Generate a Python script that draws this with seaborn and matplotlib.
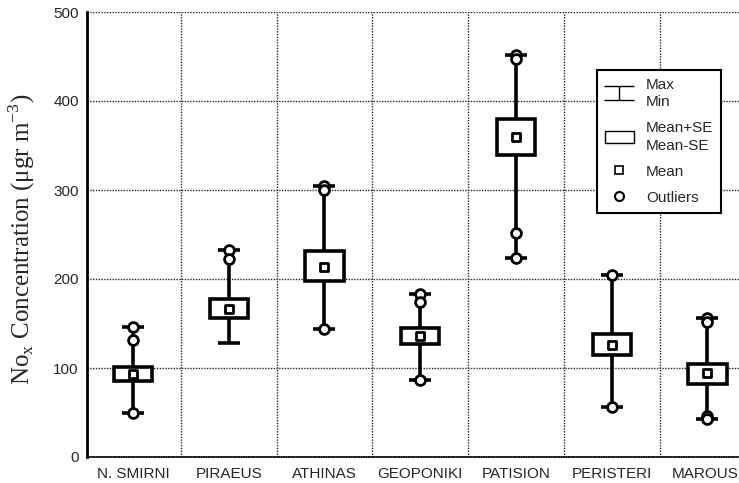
import numpy as np
import pandas as pd
import seaborn as sns
import matplotlib.pyplot as plt
from matplotlib.lines import Line2D
from matplotlib.patches import Patch
from matplotlib.path import Path

stations = ['N. SMIRNI', 'PIRAEUS', 'ATHINAS', 'GEOPONIKI', 'PATISION', 'PERISTERI', 'MAROUSI']
v_min = [50, 128, 144, 87, 224, 56, 43]
v_max = [146, 233, 305, 183, 452, 204, 156]
se_lo = [85, 156, 198, 127, 339, 115, 82]
se_hi = [101, 178, 231, 145, 380, 138, 105]
v_mean = [93, 166, 214, 136, 359, 126, 94]

# outliers (station index, value)
out_station = [0, 0, 0, 1, 1, 2, 2, 2, 3, 3, 3, 4, 4, 4, 4, 5, 5, 6, 6, 6, 6]
out_value = [146, 132, 50, 233, 222, 305, 300, 144, 183, 174, 87,
             452, 447, 252, 224, 204, 56, 156, 152, 46, 43]

df = pd.DataFrame({'station': stations, 'vmin': v_min, 'vmax': v_max,
                   'lo': se_lo, 'hi': se_hi, 'mean': v_mean})
df['x'] = np.arange(len(stations))
df_out = pd.DataFrame({'x': out_station, 'value': out_value})

sns.set_style('white')
plt.rcParams['font.family'] = ['Liberation Sans', 'DejaVu Sans']

fig = plt.figure(figsize=(7.39, 4.83), dpi=100)
ax = fig.add_axes([87/739, 26/483, 1 - 87/739, 445/483])

# whiskers (min-max)
ax.errorbar(df['x'], (df['vmin'] + df['vmax']) / 2, yerr=(df['vmax'] - df['vmin']) / 2,
            fmt='none', ecolor='black', elinewidth=2.6, capsize=8, capthick=2.6, zorder=3)
# mean +- SE boxes
ax.bar(df['x'], df['hi'] - df['lo'], bottom=df['lo'], width=0.4,
       facecolor='white', edgecolor='black', linewidth=2.6, zorder=4)
# outliers
sns.scatterplot(data=df_out, x='x', y='value', marker='o', s=50, facecolor='white',
                edgecolor='black', linewidth=2, zorder=5, ax=ax, legend=False)
# means
sns.scatterplot(data=df, x='x', y='mean', marker='s', s=38, facecolor='white',
                edgecolor='black', linewidth=2, zorder=6, ax=ax, legend=False)

ax.set_xlim(-0.48, 6.33)
ax.set_ylim(0, 500)
ax.set_xticks(df['x'])
ax.set_xticklabels(stations)
ax.set_xticks(np.arange(0.5, 6.5, 1), minor=True)
ax.set_yticks([0, 100, 200, 300, 400, 500])
ax.tick_params(axis='both', which='both', length=0, labelsize=11)
ax.tick_params(axis='x', pad=7)
ax.tick_params(axis='y', pad=6)
ax.set_xlabel('')

ax.grid(False)
ax.yaxis.grid(True, which='major', linestyle=(0, (1, 1)), linewidth=1, color='0.15', zorder=0)
ax.xaxis.grid(True, which='minor', linestyle=(0, (1, 1)), linewidth=1, color='0.15', zorder=0)
ax.set_axisbelow(True)

for s in ['top', 'right']:
    ax.spines[s].set_visible(False)
ax.spines['left'].set_linewidth(2)
ax.spines['left'].set_color('black')
ax.spines['bottom'].set_linewidth(1.2)
ax.spines['bottom'].set_color('0.1')
ax.spines['bottom'].set_linestyle((0, (1, 0.5)))

ax.set_ylabel('No$_\\mathregular{x}$ Concentration (μgr m$^\\mathregular{-3}$)',
              fontsize=18, family='Liberation Serif')
ax.yaxis.set_label_coords(-0.077, 0.49)

# legend
ibeam = Path([(-1, 0.45), (1, 0.45), (0, 0.45), (0, -0.45), (-1, -0.45), (1, -0.45)],
             [Path.MOVETO, Path.LINETO, Path.MOVETO, Path.LINETO, Path.MOVETO, Path.LINETO])
handles = [
    Line2D([], [], linestyle='none', marker=ibeam, markersize=21, markeredgewidth=1,
           markerfacecolor='none', markeredgecolor='black'),
    Patch(facecolor='white', edgecolor='black', linewidth=1),
    Line2D([], [], linestyle='none', marker='s', markersize=6, markerfacecolor='white',
           markeredgecolor='black', markeredgewidth=1.2),
    Line2D([], [], linestyle='none', marker='o', markersize=6.5, markerfacecolor='white',
           markeredgecolor='black', markeredgewidth=1.5),
]
labels = ['Max\nMin', 'Mean+SE\nMean-SE', 'Mean', 'Outliers']
leg = fig.legend(handles, labels, loc='upper left', bbox_to_anchor=(597/739, 1 - 70/483),
                 frameon=True, fancybox=False, framealpha=1, fontsize=11,
                 handlelength=1.9, handleheight=0.9, handletextpad=0.8,
                 borderpad=0.5, labelspacing=0.75, borderaxespad=0)
leg.get_frame().set_edgecolor('black')
leg.get_frame().set_linewidth(1.5)
for t in leg.get_texts():
    t.set_linespacing(1.35)

fig.savefig('out.png', dpi=100)
